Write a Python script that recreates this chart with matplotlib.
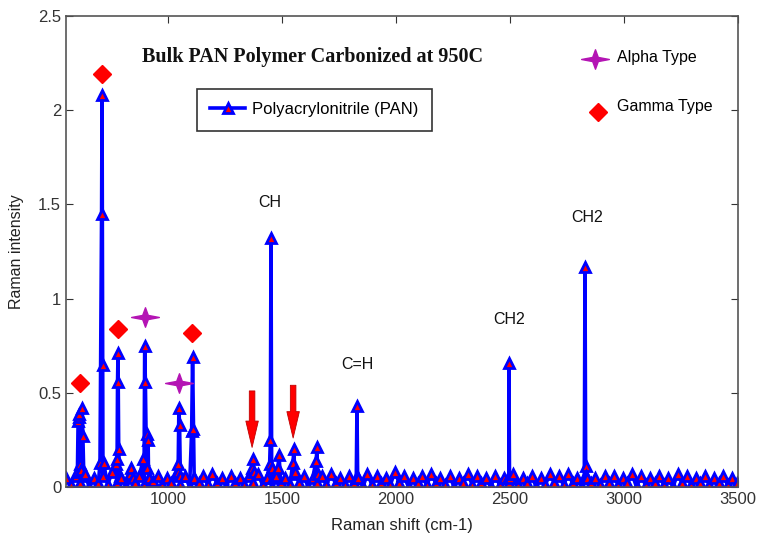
import numpy as np
import matplotlib.pyplot as plt
from matplotlib.patches import FancyArrowPatch
from matplotlib.path import Path

# ---------------------------------------------------------
# spectrum data (Raman shift in cm-1, intensity in a.u.)
# ---------------------------------------------------------
shift_start = 555
shift_step = 20
baseline = [
    0.05, 0.01, 0.06, 0.02, 0.07, 0.00, 0.05, 0.02, 0.06, 0.01, 0.08, 0.02, 0.05, 0.00, 0.07, 0.02, 0.06, 0.01, 0.05, 0.03,
    0.06, 0.01, 0.05, 0.02, 0.07, 0.01, 0.06, 0.00, 0.05, 0.02, 0.06, 0.01, 0.07, 0.02, 0.05, 0.00, 0.06, 0.02, 0.05, 0.01,
    0.06, 0.02, 0.07, 0.01, 0.05, 0.00, 0.06, 0.02, 0.05, 0.01, 0.07, 0.02, 0.06, 0.00, 0.05, 0.02, 0.06, 0.01, 0.07, 0.02,
    0.05, 0.01, 0.06, 0.02, 0.05, 0.00, 0.07, 0.01, 0.06, 0.02, 0.05, 0.01, 0.08, 0.02, 0.06, 0.00, 0.05, 0.02, 0.06, 0.01,
    0.07, 0.02, 0.05, 0.01, 0.06, 0.00, 0.05, 0.02, 0.07, 0.01, 0.06, 0.02, 0.05, 0.00, 0.06, 0.01, 0.05, 0.02, 0.07, 0.01,
    0.05, 0.02, 0.06, 0.00, 0.05, 0.01, 0.07, 0.02, 0.06, 0.01, 0.07, 0.02, 0.05, 0.00, 0.06, 0.02, 0.05, 0.01, 0.06, 0.02,
    0.06, 0.01, 0.05, 0.02, 0.07, 0.00, 0.06, 0.01, 0.05, 0.02, 0.06, 0.01, 0.05, 0.00, 0.07, 0.02, 0.06, 0.01, 0.05, 0.02,
    0.06, 0.01, 0.05, 0.02, 0.06, 0.01, 0.05, 0.02,
]

peak_shift = [
    603, 606, 609, 612, 616, 620, 624, 627, 631,
    702, 709, 711, 714, 718,
    774, 777, 779, 781, 784, 788,
    832, 838, 845,
    892, 898, 901, 906, 910, 913, 918,
    1042, 1045, 1048, 1051, 1055,
    1104, 1108, 1112, 1116,
    1367, 1373, 1378,
    1446, 1449, 1452, 1455, 1460,
    1482, 1487,
    1548, 1553, 1558,
    1650, 1654, 1658,
    1826, 1829, 1832,
    2492, 2495, 2498,
    2826, 2829, 2832, 2837,
]
peak_int = [
    0.08, 0.35, 0.37, 0.39, 0.12, 0.09, 0.42, 0.27, 0.06,
    0.13, 1.45, 2.08, 0.65, 0.13,
    0.12, 0.15, 0.56, 0.71, 0.20, 0.06,
    0.06, 0.10, 0.05,
    0.15, 0.75, 0.56, 0.10, 0.28, 0.25, 0.05,
    0.08, 0.12, 0.42, 0.33, 0.06,
    0.30, 0.69, 0.31, 0.05,
    0.10, 0.15, 0.08,
    0.12, 0.25, 1.32, 0.10, 0.05,
    0.10, 0.17,
    0.13, 0.20, 0.08,
    0.14, 0.21, 0.07,
    0.05, 0.43, 0.05,
    0.05, 0.66, 0.05,
    0.05, 1.17, 0.11, 0.05,
]

# phase markers
alpha_shift = [900, 1049]
alpha_int = [0.90, 0.55]
gamma_shift = [614, 711, 781, 1106]
gamma_int = [0.55, 2.19, 0.84, 0.82]

# downward arrows (shift, top, tip)
arrow_shift = [1369, 1549]
arrow_top = [0.51, 0.54]
arrow_tip = [0.21, 0.26]

# band labels
band_text = ["CH", "C=H", "CH2", "CH2"]
band_x = [1448, 1829, 2498, 2838]
band_y = [1.51, 0.65, 0.89, 1.43]

# ---------------------------------------------------------
# build the full spectrum
# ---------------------------------------------------------
base_x = shift_start + shift_step * np.arange(len(baseline))
x = np.concatenate([base_x, peak_shift])
y = np.concatenate([baseline, peak_int])
order = np.argsort(x, kind="stable")
x, y = x[order], y[order]

# 4-point star for the alpha markers
star = Path([(-1.0, 0.0), (-0.2, 0.15), (0.0, 0.7), (0.2, 0.15), (1.0, 0.0),
             (0.2, -0.15), (0.0, -0.7), (-0.2, -0.15), (-1.0, 0.0)],
            [Path.MOVETO] + [Path.LINETO] * 7 + [Path.CLOSEPOLY])

plt.rcParams["font.family"] = ["Liberation Sans", "DejaVu Sans"]

fig = plt.figure(figsize=(7.58, 5.4), dpi=100)
ax = fig.add_axes([0.0871, 0.0981, 0.8865, 0.8723])

ax.plot(x, y, color="#0000ff", lw=2.6, marker="^", ms=7,
        mfc="red", mec="#0000ff", mew=2.0, label="Polyacrylonitrile (PAN)")

ax.plot(alpha_shift, alpha_int, ls="none", marker=star, ms=20,
        color="#b414b4")
ax.plot(gamma_shift, gamma_int, ls="none", marker="D", ms=9,
        color="#ff0000")

for xs, top, tip in zip(arrow_shift, arrow_top, arrow_tip):
    ax.add_patch(FancyArrowPatch(
        (xs, top), (xs, tip), mutation_scale=1,
        arrowstyle="simple,head_length=19,head_width=9,tail_width=4",
        fc="red", ec="#c00000", lw=0.6, shrinkA=0, shrinkB=0, zorder=4))

for t, bx, by in zip(band_text, band_x, band_y):
    ax.text(bx, by, t, ha="center", va="center", fontsize=11.5, color="#111111")

ax.text(1636, 2.28, "Bulk PAN Polymer Carbonized at 950C", ha="center",
        va="center", fontsize=14.5, fontweight="bold",
        family=["Liberation Serif", "DejaVu Serif"], color="#111111")

# legend entries for the phase markers
ax.plot([2873], [2.27], ls="none", marker=star, ms=20, color="#b414b4")
ax.text(2970, 2.28, "Alpha Type", ha="left", va="center", fontsize=11.5)
ax.plot([2886], [1.99], ls="none", marker="D", ms=9, color="#ff0000")
ax.text(2970, 2.02, "Gamma Type", ha="left", va="center", fontsize=11.5)

leg = ax.legend(loc="upper left", bbox_to_anchor=(0.195, 0.845),
                borderaxespad=0, fancybox=False, fontsize=12,
                handlelength=2.1, handletextpad=0.4, borderpad=0.8,
                framealpha=1)
leg.get_frame().set_edgecolor("#333333")
leg.get_frame().set_linewidth(1.2)

ax.set_xlim(553, 3500)
ax.set_ylim(0, 2.5)
ax.set_xticks([1000, 1500, 2000, 2500, 3000, 3500])
ax.set_yticks([0, 0.5, 1, 1.5, 2, 2.5])
ax.set_yticklabels(["0", "0.5", "1", "1.5", "2", "2.5"])
ax.tick_params(direction="in", top=True, right=True, length=5,
               labelsize=12, colors="#333333")
for s in ax.spines.values():
    s.set_color("#555555")
    s.set_linewidth(1.2)

ax.set_xlabel("Raman shift (cm-1)", fontsize=12, color="#222222", labelpad=8)
ax.set_ylabel("Raman intensity", fontsize=11.5, color="#222222", labelpad=10)

fig.savefig("out.png", dpi=100)
plt.close(fig)
